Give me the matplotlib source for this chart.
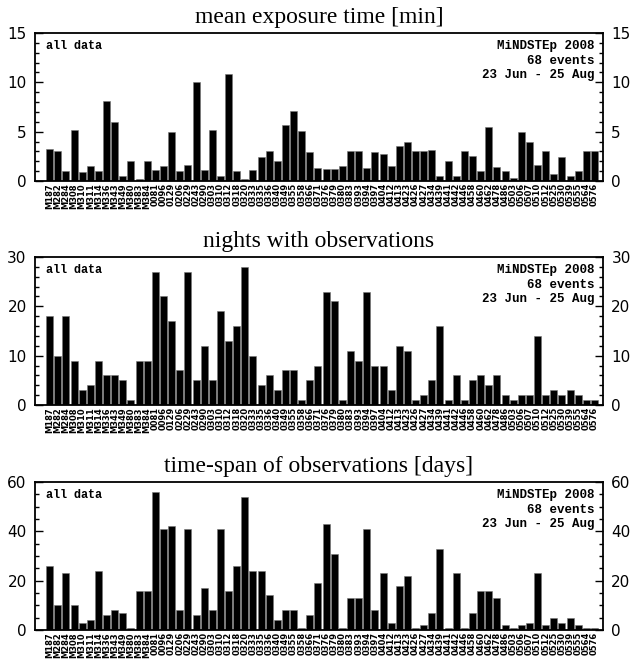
import matplotlib.pyplot as plt
from matplotlib.ticker import MultipleLocator

events = [
    "M187", "M282", "M284", "M308", "M310", "M311", "M314", "M336", "M343", "M349",
    "M380", "M383", "M384", "0081", "0096", "0129", "0206", "0229", "0243", "0290",
    "0303", "0310", "0312", "0318", "0320", "0333", "0335", "0336", "0340", "0349",
    "0355", "0358", "0366", "0371", "0376", "0379", "0380", "0383", "0393", "0394",
    "0397", "0404", "0412", "0413", "0423", "0426", "0427", "0434", "0439", "0441",
    "0442", "0446", "0458", "0460", "0462", "0478", "0486", "0503", "0506", "0507",
    "0510", "0512", "0525", "0530", "0539", "0555", "0564", "0576",
]

# mean exposure time per event [min]
exposure = [
    3.2, 3.0, 1.0, 5.2, 0.9, 1.5, 1.0, 8.1, 6.0, 0.5,
    2.0, 0.25, 2.0, 1.1, 1.55, 4.95, 1.0, 1.6, 10.05, 1.15,
    5.2, 0.5, 10.8, 1.0, 0.25, 1.15, 2.45, 3.05, 2.05, 5.7,
    7.05, 5.05, 2.95, 1.35, 1.2, 1.25, 1.5, 3.05, 3.0, 1.3,
    2.9, 2.7, 1.5, 3.55, 3.95, 3.0, 3.0, 3.1, 0.5, 2.0,
    0.55, 3.0, 2.55, 1.05, 5.5, 1.45, 1.0, 0.3, 5.0, 4.0,
    1.65, 3.0, 0.7, 2.4, 0.5, 1.0, 3.0, 3.0,
]

# number of nights with observations
nights = [
    18, 10, 18, 9, 3, 4, 9, 6, 6, 5,
    1, 9, 9, 27, 22, 17, 7, 27, 5, 12,
    5, 19, 13, 16, 28, 10, 4, 6, 3, 7,
    7, 1, 5, 8, 23, 21, 1, 11, 9, 23,
    8, 8, 3, 12, 11, 1, 2, 5, 16, 1,
    6, 1, 5, 6, 4, 6, 2, 1, 2, 2,
    14, 2, 3, 2, 3, 2, 1, 1,
]

# time-span of observations [days]
timespan = [
    26, 10, 23, 10, 3, 4, 24, 6, 8, 7,
    1, 16, 16, 56, 41, 42, 8, 41, 6, 17,
    8, 41, 16, 26, 54, 24, 24, 14, 4, 8,
    8, 1, 6, 19, 43, 31, 1, 13, 13, 41,
    8, 23, 3, 18, 22, 1, 2, 7, 33, 1,
    23, 1, 7, 16, 16, 13, 2, 1, 2, 3,
    23, 2, 5, 3, 5, 2, 1, 1,
]

panels = [
    ("mean exposure time [min]", exposure, 15, 5, 1, 0.7253),
    ("nights with observations", nights, 30, 10, 2, 0.3854),
    ("time-span of observations [days]", timespan, 60, 20, 5, 0.0440),
]

fig = plt.figure(figsize=(6.4, 6.59), dpi=100)
x = list(range(1, len(events) + 1))

for title, values, ymax, major, minor, bottom in panels:
    ax = fig.add_axes([0.0547, bottom, 0.8875, 0.2246])
    ax.bar(x, values, width=0.86, color='black', edgecolor='#777777', linewidth=0.4)
    ax.set_xlim(-0.8, 69.05)
    ax.set_ylim(0, ymax)

    ax.set_title(title, family='Liberation Serif', fontsize=17, pad=7)

    ax.yaxis.set_major_locator(MultipleLocator(major))
    ax.yaxis.set_minor_locator(MultipleLocator(minor))
    ax.tick_params(axis='y', which='both', direction='in', left=True, right=True,
                   labelleft=True, labelright=True, labelsize=11, pad=6)
    ax.tick_params(axis='y', which='major', length=6, width=1)
    ax.tick_params(axis='y', which='minor', length=3, width=1)

    ax.set_xticks(x)
    ax.set_xticklabels(events, rotation=90, fontsize=6.0, fontweight='bold',
                       family='DejaVu Sans')
    ax.tick_params(axis='x', length=0, pad=1.5)

    for spine in ax.spines.values():
        spine.set_linewidth(1.3)

    ax.text(0.02, 0.95, "all data", transform=ax.transAxes, ha='left', va='top',
            family='Liberation Mono', fontweight='bold', fontsize=8.5)
    ax.text(0.985, 0.95, "MiNDSTEp 2008\n68 events\n23 Jun - 25 Aug",
            transform=ax.transAxes, ha='right', va='top', linespacing=1.25,
            family='Liberation Mono', fontweight='bold', fontsize=9)

plt.savefig('out.png', dpi=100)
